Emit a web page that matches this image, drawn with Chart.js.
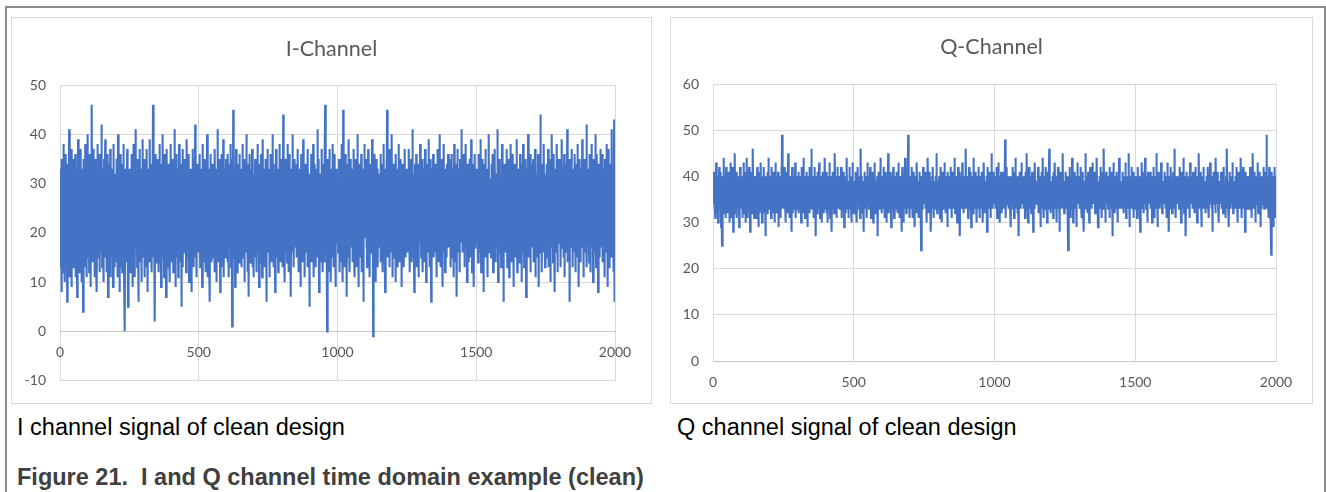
<!DOCTYPE html>
<html>
<head>
<meta charset="utf-8">
<title>I and Q channel time domain example</title>
<script src="https://cdn.jsdelivr.net/npm/chart.js@4"></script>
<style>
  body {
    margin: 0;
    width: 1326px;
    height: 492px;
    overflow: hidden;
    position: relative;
    background: #fff;
    font-family: "Liberation Sans", Arial, sans-serif;
  }
  .frame {
    position: absolute;
    left: 5px;
    top: 6px;
    width: 1317px;
    height: 500px;
    border: 2px solid #8c8c8c;
    border-bottom: none;
  }
  .box {
    position: absolute;
    top: 17px;
    height: 385px;
    border: 1px solid #d9d9d9;
  }
  #boxI { left: 11px; width: 639px; }
  #boxQ { left: 670px; width: 641px; }
  .box canvas { display: block; }
  .chart-title {
    position: absolute;
    left: 0;
    right: 0;
    text-align: center;
    font-family: Lato, "Open Sans", sans-serif;
    font-size: 21.5px;
    line-height: 25.8px;
    color: #595959;
  }
  .caption {
    position: absolute;
    top: 416px;
    font-size: 23.5px;
    line-height: 23.5px;
    color: #000;
    white-space: nowrap;
  }
  .figure {
    position: absolute;
    left: 17px;
    top: 466px;
    font-size: 23.5px;
    line-height: 23.5px;
    font-weight: bold;
    color: #404040;
    white-space: nowrap;
  }
</style>
</head>
<body>
<div class="frame"></div>
<div class="box" id="boxI">
  <canvas id="chartI" width="639" height="385"></canvas>
  <div class="chart-title" style="top:18.4px">I-Channel</div>
</div>
<div class="box" id="boxQ">
  <canvas id="chartQ" width="641" height="385"></canvas>
  <div class="chart-title" style="top:16.4px">Q-Channel</div>
</div>
<div class="caption" style="left:17px">I channel signal of clean design</div>
<div class="caption" style="left:677px">Q channel signal of clean design</div>
<div class="figure">Figure 21.&nbsp; I and Q channel time domain example (clean)</div>

<script>
// sample index range shown on the x axis
const sampleSpan = 2000;
const xTicks = [0, 500, 1000, 1500, 2000];
const iTicks = [-10, 0, 10, 20, 30, 40, 50];
const qTicks = [0, 10, 20, 30, 40, 50, 60];

// I channel samples, 50 per row
const iValues = [
  26,13,33,19,29,8,24,35,17,22,30,12,27,38,20,16,31,23,10,28,18,36,25,14,32,21,6,26,34,19,24,15,29,41,22,11,27,17,33,20,25,9,30,37,16,23,28,13,35,21,
  19,31,14,27,22,36,11,25,33,17,28,20,7,30,24,39,16,21,34,12,26,29,18,23,37,15,31,10,27,22,33,19,25,4,29,35,17,24,13,30,21,38,26,16,28,11,32,23,20,40,
  24,15,30,21,34,12,27,18,36,22,9,29,25,33,17,46,20,28,14,31,23,37,16,26,11,32,19,27,35,22,13,30,24,8,28,20,38,15,25,33,18,29,12,36,23,21,31,16,27,42,
  20,28,13,33,24,17,30,10,26,35,21,15,29,39,18,25,32,12,27,22,36,16,24,7,31,19,28,34,14,26,22,37,11,29,25,18,33,20,27,15,30,9,24,38,21,28,13,32,17,25,
  31,18,26,14,35,22,29,11,24,40,19,27,16,33,21,8,30,25,13,36,23,17,28,34,12,26,20,31,15,38,24,10,29,21,0,27,33,18,25,14,30,22,37,16,28,5,24,32,19,26,
  17,33,23,12,29,26,19,36,14,28,22,31,9,25,38,18,27,15,34,21,11,30,24,41,17,26,20,32,13,28,35,19,24,6,31,22,27,16,37,20,29,14,25,33,10,28,23,18,39,22,
  28,15,32,21,26,11,35,19,24,30,17,27,13,37,22,29,8,25,33,18,31,20,26,14,39,23,16,30,21,27,12,34,24,19,28,46,22,15,31,25,18,33,2,27,36,20,14,29,23,32,
  16,26,35,21,12,30,24,18,38,22,27,14,31,20,9,28,34,17,25,23,40,15,29,19,33,11,26,36,22,18,31,24,7,28,21,37,16,30,25,13,34,20,27,17,32,23,10,29,38,19,
  25,31,14,27,22,35,18,29,12,33,20,26,41,16,24,30,9,27,21,36,15,28,23,33,19,25,11,31,18,38,24,14,29,22,34,17,27,5,30,21,26,37,13,28,20,32,24,16,35,22,
  29,18,24,34,12,27,21,39,16,30,23,15,28,36,20,10,26,32,19,25,33,14,29,22,8,31,24,37,17,27,21,13,35,26,19,30,23,42,15,28,22,33,11,25,29,18,34,20,27,16,
  31,22,17,36,25,13,28,20,33,15,26,30,9,24,38,19,27,22,14,32,18,29,35,21,12,26,34,23,16,30,40,19,25,11,28,33,21,17,31,24,6,27,36,20,23,29,14,32,18,26,
  22,34,15,28,19,31,24,12,37,21,27,17,30,23,10,33,26,18,41,20,25,14,29,35,22,16,31,8,27,24,19,36,13,28,21,30,17,25,39,23,11,29,20,33,26,15,28,22,35,18,
  27,19,32,14,25,36,21,28,11,30,23,17,34,26,20,38,13,29,22,31,1,24,35,18,45,21,27,15,33,20,26,9,30,24,37,16,28,22,12,32,19,25,34,21,29,14,36,23,18,27,
  33,20,26,13,31,24,17,38,22,28,15,30,21,35,10,27,24,19,32,16,29,23,40,18,26,12,34,21,28,7,25,31,19,36,22,14,29,26,33,17,24,20,37,13,30,23,27,11,32,21,
  18,29,24,35,15,27,21,33,12,26,30,19,38,23,16,28,25,9,34,20,27,14,31,22,36,18,24,30,11,28,21,39,17,25,33,20,26,13,29,23,35,16,28,6,31,24,19,37,22,27,
  24,33,16,28,20,11,30,25,36,18,27,22,14,32,26,40,19,23,29,13,34,21,26,17,31,8,28,24,37,20,15,29,23,33,18,26,12,30,25,21,38,17,27,22,31,14,35,20,28,24,
  19,30,25,13,44,22,28,17,33,24,10,29,21,35,16,27,23,31,14,38,20,26,32,12,28,19,36,24,15,30,22,27,7,33,25,18,29,21,40,16,26,31,13,28,23,35,19,24,30,17,
  28,21,34,15,26,31,19,37,23,12,29,25,17,33,20,27,9,30,24,36,18,22,32,14,28,26,39,20,15,31,23,27,11,34,21,29,18,25,33,16,30,24,13,37,22,28,19,32,26,5,
  25,32,18,29,22,36,14,27,20,31,16,26,38,23,11,30,24,19,34,21,28,13,33,25,17,29,22,41,15,27,20,35,24,8,31,26,18,30,23,14,32,27,21,37,17,25,29,12,34,22,
  30,19,26,14,33,46,22,28,16,31,24,20,0,27,35,18,29,23,12,32,25,37,17,28,21,33,10,26,30,19,24,38,15,27,22,34,13,29,25,20,36,17,28,9,31,24,21,33,18,27,
  22,31,16,28,24,35,12,30,19,26,33,21,14,29,25,38,18,27,23,10,45,20,29,16,32,24,13,36,21,28,18,31,25,7,34,22,27,15,30,24,39,19,26,33,12,28,21,35,17,25,
  27,18,33,23,14,30,26,20,37,16,29,22,11,32,25,19,35,28,13,24,31,21,40,17,27,23,9,30,26,18,34,22,15,29,24,36,12,28,20,33,25,17,31,6,27,22,38,19,30,24,
  20,29,24,35,17,26,13,31,22,28,37,15,25,30,19,33,11,27,23,21,34,16,29,25,39,18,24,32,-1,26,22,36,14,28,20,31,24,10,29,23,35,17,27,21,33,13,30,25,19,28,
  32,23,17,28,25,36,14,30,21,27,19,34,24,12,29,22,38,16,26,31,20,8,28,33,23,18,35,26,45,21,29,15,31,24,19,37,27,13,30,22,25,33,16,28,21,40,24,11,32,26,
  18,29,23,34,15,27,21,31,10,26,36,20,28,24,17,33,22,13,30,25,38,19,26,32,14,29,22,35,16,27,24,9,31,20,28,34,18,25,30,13,27,23,37,21,15,29,26,33,19,24,
  30,21,26,16,33,24,19,37,22,28,12,31,25,18,35,23,27,14,29,41,20,26,32,15,28,22,8,30,24,34,19,27,21,36,13,29,25,17,32,23,28,11,34,20,26,30,18,38,22,27,
  23,15,31,25,20,35,27,12,29,22,33,18,26,30,14,37,21,28,24,10,32,25,19,34,27,16,30,22,39,17,26,31,13,28,23,35,20,6,29,25,18,33,24,21,36,15,27,30,19,26,
  29,20,34,16,27,23,11,31,25,37,18,28,22,33,14,26,30,21,40,17,24,29,13,35,22,27,19,32,9,26,30,23,16,38,21,28,25,12,33,24,20,31,27,15,34,22,18,29,36,23,
  17,30,24,35,21,28,13,32,26,19,36,23,15,29,27,33,20,11,31,25,38,18,26,22,34,14,28,24,31,7,27,21,37,19,25,30,16,33,23,28,12,35,24,20,29,26,41,18,27,22,
  31,16,26,22,36,19,28,13,33,24,29,20,38,17,25,31,10,27,22,34,18,30,24,14,28,35,21,26,32,15,23,39,20,28,12,31,25,19,34,22,27,9,30,24,36,17,26,33,21,28,
  24,33,18,27,21,30,14,36,25,20,31,16,28,23,39,19,26,12,32,24,29,21,35,17,27,23,8,30,25,34,18,28,22,37,15,26,31,20,24,11,33,27,19,29,23,40,16,28,25,21,
  27,20,31,15,34,23,28,18,36,22,12,29,25,33,19,26,37,21,14,30,24,27,17,32,22,41,20,25,10,28,33,23,19,35,26,16,30,22,28,13,31,24,38,18,27,21,34,25,6,29,
  23,34,19,28,25,16,31,22,37,20,27,13,30,24,35,18,26,29,11,33,21,25,38,17,28,23,32,14,26,30,20,36,24,9,29,22,27,34,18,25,31,15,28,23,39,21,26,12,33,24,
  19,28,33,22,14,30,25,36,18,27,23,31,10,26,34,21,29,16,38,24,20,27,13,32,25,19,35,22,28,7,30,24,17,33,26,21,40,15,28,23,31,18,25,36,12,29,22,27,34,20,
  26,31,17,24,35,21,28,14,33,25,19,37,22,11,29,26,32,18,24,30,15,27,36,21,25,9,31,23,28,16,44,22,27,34,19,26,12,30,24,33,20,28,16,38,23,29,21,13,32,25,
  30,18,26,23,34,15,28,21,37,24,13,31,27,19,35,22,29,10,26,33,24,17,40,20,28,25,14,31,22,36,19,27,8,30,24,33,21,26,16,29,38,23,12,32,25,20,35,27,18,30,
  22,35,19,28,13,30,26,21,39,17,27,24,33,15,29,22,36,11,31,25,18,28,34,23,16,30,20,41,26,14,32,24,27,19,35,22,6,29,25,31,17,28,23,37,20,26,13,33,24,29,
  25,20,31,16,36,27,22,12,30,24,34,18,28,21,38,15,26,32,23,9,29,25,35,19,27,22,14,33,24,30,17,39,21,28,25,11,32,26,20,35,23,29,16,31,27,18,42,22,13,28,
  31,24,18,33,22,27,14,36,25,20,29,12,34,26,21,38,17,28,23,31,10,27,35,19,30,24,16,33,22,40,26,13,29,21,36,25,18,31,8,28,24,34,20,27,15,32,23,37,19,26,
  22,31,17,28,36,14,27,24,33,19,30,21,11,35,26,18,29,23,38,16,27,32,9,25,30,20,37,24,13,28,34,21,26,17,31,23,41,15,29,25,19,33,22,12,30,27,43,18,6,35
];

// Q channel samples, 50 per row
const qValues = [
  37,34,39,36,41,33,38,35,31,40,36,43,34,38,32,37,35,40,30,36,39,34,42,37,33,38,35,41,36,29,38,34,25,37,40,35,32,39,36,44,33,37,35,40,31,38,36,42,34,37,
  35,39,32,37,41,34,36,38,30,40,35,37,33,43,36,31,39,35,38,34,42,36,28,37,40,33,38,35,45,32,36,39,34,37,31,41,35,38,33,36,40,34,37,29,39,36,42,33,38,35,
  38,33,37,40,35,31,39,36,43,34,37,32,38,35,41,36,30,39,34,37,44,33,38,36,31,40,35,37,42,34,36,39,28,38,35,33,41,36,37,32,39,35,46,34,37,36,31,40,35,38,
  34,38,36,31,40,35,37,42,33,39,36,29,38,34,41,37,32,36,39,35,43,33,38,36,30,40,34,37,35,39,32,42,36,38,33,35,40,27,37,34,39,36,32,41,35,38,34,44,36,33,
  37,35,40,33,38,36,31,39,34,42,36,38,32,37,35,41,33,39,36,30,38,35,43,34,37,40,32,36,39,35,33,41,37,29,38,36,34,40,35,37,31,39,36,42,34,49,37,33,38,35,
  36,40,33,38,35,42,34,37,30,39,36,33,41,35,38,32,37,45,34,36,39,31,38,35,40,33,37,36,28,39,35,42,34,37,32,38,36,40,33,35,39,34,43,36,31,38,35,37,40,33,
  38,34,37,41,35,32,39,36,38,33,40,35,37,30,42,34,36,39,33,37,35,44,32,38,36,34,40,31,37,35,39,33,41,36,38,29,37,35,40,34,36,38,32,42,35,37,33,39,36,46,
  35,38,33,37,40,34,36,31,39,35,42,37,33,38,35,27,40,36,34,39,32,37,41,35,38,33,36,43,34,37,31,39,36,35,40,33,38,30,37,35,41,34,38,36,32,39,35,44,33,37,
  39,35,37,32,41,36,34,38,30,40,35,37,33,43,36,38,31,39,34,36,40,35,28,38,37,33,41,36,35,39,32,38,34,45,36,37,33,40,35,31,38,36,42,34,37,35,39,33,36,40,
  36,33,39,35,38,42,34,37,31,40,36,38,33,35,41,37,29,39,34,36,38,32,40,35,37,44,33,38,36,34,39,31,37,35,42,36,33,38,35,40,34,37,30,39,36,43,35,38,32,37,
  35,39,34,38,36,32,41,37,33,39,35,30,38,36,42,34,37,35,40,33,38,36,31,39,35,46,34,37,33,40,36,38,32,35,39,28,37,36,41,34,38,35,33,40,36,37,31,39,35,43,
  38,34,37,40,33,36,39,35,42,34,37,31,38,36,35,41,33,39,37,30,40,35,38,34,43,36,32,38,35,39,33,37,36,40,34,27,38,35,41,37,33,39,36,34,38,44,35,37,32,39,
  36,40,35,33,38,36,42,34,37,31,39,35,38,33,41,36,30,38,35,37,40,34,45,36,32,39,35,37,33,41,36,38,34,29,39,36,35,40,33,37,42,35,38,31,36,39,34,37,40,35,
  33,38,36,41,35,37,32,39,34,43,36,38,31,37,35,40,33,39,36,28,38,35,42,34,37,36,30,40,35,38,33,37,44,36,35,39,32,38,36,41,34,37,35,49,33,38,36,31,39,35,
  37,35,40,33,38,36,42,34,31,39,36,38,35,41,33,37,29,39,36,34,40,35,38,32,43,36,37,34,39,35,31,38,36,41,34,37,33,39,35,24,37,36,40,33,38,35,42,34,37,36,
  39,34,37,36,41,33,38,35,30,40,36,37,33,44,35,38,32,39,36,34,41,37,35,39,28,38,36,33,40,35,37,42,34,38,31,36,39,35,37,33,40,36,34,45,35,38,32,37,39,36,
  35,38,33,40,36,37,31,39,35,42,34,38,36,30,41,35,37,33,39,36,38,34,43,35,37,32,40,36,38,34,35,39,29,37,41,36,33,38,35,40,34,37,36,42,33,39,35,31,38,36,
  38,36,41,34,37,33,39,35,44,36,32,38,35,40,34,37,36,30,39,35,42,33,38,36,35,41,37,27,38,34,36,40,33,37,35,43,34,39,36,32,38,35,40,37,33,36,39,34,46,35,
  36,33,38,35,40,37,31,39,34,42,36,35,38,33,41,35,37,29,39,36,34,40,35,38,32,44,36,37,33,39,35,41,34,38,36,30,40,35,37,33,39,36,42,34,37,35,31,38,36,40,
  34,39,36,37,33,41,35,38,30,40,36,34,43,35,38,32,37,39,35,36,33,40,37,28,38,35,42,34,36,39,35,37,33,41,36,38,31,40,35,45,34,37,36,39,33,38,35,41,37,34,
  38,35,40,33,37,36,42,34,39,31,37,35,38,43,36,33,40,35,37,30,39,36,34,41,35,38,32,37,41,36,35,39,33,40,36,34,38,48,35,37,31,39,36,42,34,38,35,37,40,33,
  36,40,34,37,39,33,38,35,29,40,36,37,34,42,35,38,33,39,36,31,41,35,37,34,44,36,38,33,39,35,37,32,40,36,38,34,27,39,35,37,41,36,33,38,35,43,34,37,36,39,
  35,38,33,40,36,34,39,37,31,41,35,38,36,33,45,37,34,39,35,30,38,36,42,34,37,35,40,33,38,36,32,39,35,41,37,34,38,28,36,40,35,37,33,43,36,38,34,39,35,37,
  39,34,37,36,42,35,38,32,40,36,34,38,35,29,39,37,41,33,36,38,35,44,34,37,36,31,40,35,38,33,37,36,42,34,39,35,30,38,36,41,33,37,35,39,46,34,38,36,32,37,
  36,39,35,33,38,40,34,37,31,41,36,35,38,34,43,37,33,39,36,30,40,35,37,34,38,42,36,33,39,35,37,28,38,36,41,34,37,35,40,33,38,36,45,34,37,39,35,32,38,36,
  34,38,36,41,35,37,33,40,36,38,32,24,37,35,39,36,42,34,38,35,31,40,36,37,33,44,35,38,36,30,39,35,37,41,34,38,36,33,40,35,37,29,39,36,43,34,38,35,37,36,
  38,35,40,33,37,36,42,34,39,31,36,38,35,41,33,37,36,28,39,35,38,34,45,36,37,33,40,35,38,32,37,36,41,34,39,35,30,38,36,42,34,37,35,39,33,38,36,43,35,37,
  36,39,34,37,41,35,38,32,36,40,35,37,33,44,36,38,34,29,39,35,37,36,40,33,38,35,42,34,37,31,39,36,35,41,37,33,38,36,46,34,37,35,39,30,38,36,41,34,37,35,
  35,38,36,33,40,37,34,39,31,42,36,35,38,34,41,37,33,36,39,27,38,35,43,36,37,34,40,32,38,35,37,39,33,41,36,35,38,30,40,36,34,37,44,35,38,33,39,36,37,34,
  39,36,33,38,35,41,37,34,40,32,37,36,39,35,43,34,38,31,36,40,35,37,33,39,36,45,34,38,35,29,37,40,36,34,38,35,42,33,37,36,39,34,38,31,41,35,37,36,40,33,
  36,40,35,38,34,37,31,39,36,42,35,38,33,37,40,34,36,28,39,35,38,36,43,34,37,33,41,35,38,36,32,39,35,37,44,36,34,38,33,40,35,37,30,39,36,41,34,38,35,37,
  38,35,37,33,41,36,39,34,38,30,40,35,37,36,42,33,38,35,31,39,36,34,40,37,35,45,33,38,36,29,39,35,37,41,34,38,36,33,40,35,37,43,34,38,36,32,39,35,37,36,
  35,39,36,41,34,37,33,38,36,40,31,38,35,37,43,34,39,36,35,28,38,36,40,33,37,35,42,34,38,36,32,39,37,35,41,34,38,36,46,33,37,35,39,31,38,36,40,34,37,35,
  37,34,38,36,40,33,39,35,42,37,34,38,30,36,41,35,37,33,39,36,44,35,38,32,37,36,40,34,39,27,37,35,41,36,38,33,40,35,37,34,39,36,31,38,43,35,37,34,40,36,
  36,39,35,33,38,41,36,37,34,40,32,38,35,42,36,37,33,39,35,30,38,36,40,34,37,45,35,38,33,36,39,35,41,34,37,29,38,36,40,35,37,33,42,36,38,34,39,35,37,32,
  38,35,40,37,33,39,36,42,34,38,35,31,39,36,37,43,34,38,35,40,33,37,36,39,28,38,35,41,36,34,37,40,35,38,32,44,36,37,34,39,35,38,36,41,33,37,30,39,36,35,
  35,38,36,34,41,37,33,39,35,40,36,32,38,35,42,34,37,36,39,31,38,35,40,33,37,46,36,34,38,35,39,36,29,37,41,35,38,33,40,36,37,34,39,35,43,36,38,32,37,35,
  39,36,34,38,35,40,33,37,42,36,38,34,36,30,39,35,41,37,34,38,36,33,40,35,44,36,37,31,39,35,38,36,42,34,37,33,40,35,38,28,37,36,41,34,39,35,38,33,36,40,
  36,40,35,37,33,38,36,42,34,39,35,37,31,40,36,38,34,45,35,37,33,39,36,41,34,38,30,37,35,40,36,38,34,43,35,37,32,39,36,35,41,34,38,36,29,40,35,37,33,39,
  37,35,40,34,38,36,42,33,39,35,37,41,34,38,36,49,33,39,35,37,40,34,38,31,36,42,35,37,33,39,36,30,23,38,41,35,37,33,40,36,29,39,35,42,34,38,36,40,31,37
];

Chart.defaults.font.family = 'Lato, "Open Sans", sans-serif';
Chart.defaults.color = '#595959';

// spread the samples over the 0..2000 sample axis
function toPoints(values) {
  return values.map((v, i) => ({ x: i * sampleSpan / (values.length - 1), y: v }));
}

function makeChart(id, values, yTicks, box) {
  return new Chart(document.getElementById(id), {
    type: 'line',
    data: {
      datasets: [{
        data: toPoints(values),
        borderColor: '#4472C4',
        borderWidth: 2.1,
        pointRadius: 0,
        tension: 0
      }]
    },
    options: {
      responsive: false,
      animation: false,
      events: [],
      // top padding leaves room for the HTML title above the plot
      layout: { padding: { top: box.top, left: 0, right: 36, bottom: box.bottom } },
      plugins: {
        legend: { display: false },
        tooltip: { enabled: false },
        title: { display: false }
      },
      scales: {
        x: {
          type: 'linear',
          min: 0,
          max: sampleSpan,
          position: { y: 0 },
          afterBuildTicks: s => { s.ticks = xTicks.map(v => ({ value: v })); },
          grid: { color: '#d9d9d9', drawTicks: false },
          border: { display: true, color: '#c8c8c8' },
          ticks: { padding: 13, maxRotation: 0, font: { size: 14 }, color: '#595959', callback: v => String(v) }
        },
        y: {
          min: yTicks[0],
          max: yTicks[yTicks.length - 1],
          afterBuildTicks: s => { s.ticks = yTicks.map(v => ({ value: v })); },
          afterFit: s => { s.width = box.axisWidth; },
          grid: { color: '#d9d9d9', drawTicks: false },
          border: { display: false },
          ticks: { padding: 14, font: { size: 14 }, color: '#595959', callback: v => String(v) }
        }
      }
    }
  });
}

makeChart('chartI', iValues, iTicks, { axisWidth: 48, top: 67, bottom: 20 });
makeChart('chartQ', qValues, qTicks, { axisWidth: 42, top: 66, bottom: 42 });
</script>
</body>
</html>
